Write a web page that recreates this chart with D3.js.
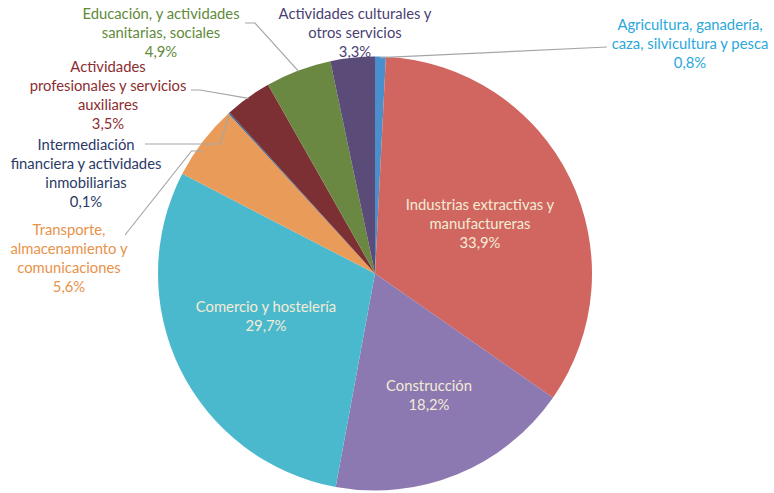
<!DOCTYPE html>
<html><head><meta charset="utf-8">
<script src="https://cdn.jsdelivr.net/npm/d3@7"></script>
<style>
html,body{margin:0;padding:0;background:#fff;}
svg{display:block;font-family:Lato, "Open Sans", sans-serif;}
</style></head>
<body><svg id="c" width="774" height="493"></svg>
<script>
// ---- data ----
const categories = [
  "Agricultura, ganadería, caza, silvicultura y pesca",
  "Industrias extractivas y manufactureras",
  "Construcción",
  "Comercio y hostelería",
  "Transporte, almacenamiento y comunicaciones",
  "Intermediación financiera y actividades inmobiliarias",
  "Actividades profesionales y servicios auxiliares",
  "Educación, y actividades sanitarias, sociales",
  "Actividades culturales y otros servicios"
];
const values = [0.8, 33.9, 18.2, 29.7, 5.6, 0.1, 3.5, 4.9, 3.3];
const valueLabels = ["0,8%","33,9%","18,2%","29,7%","5,6%","0,1%","3,5%","4,9%","3,3%"];
const labelLines = [
  ["Agricultura, ganadería,","caza, silvicultura y pesca"],
  ["Industrias extractivas y","manufactureras"],
  ["Construcción"],
  ["Comercio y hostelería"],
  ["Transporte,","almacenamiento y","comunicaciones"],
  ["Intermediación","financiera y actividades","inmobiliarias"],
  ["Actividades","profesionales y servicios","auxiliares"],
  ["Educación, y actividades","sanitarias, sociales"],
  ["Actividades culturales y","otros servicios"]
];

// ---- styles / layout ----
const sliceColors = ["#4a8fcc","#d0665f","#8c79b1","#4bb9cd","#e99c5a","#2c6496","#7c3034","#6b8842","#5b4b78"];
const textColors  = ["#2aa7dc","#f3ecd6","#f3ecd6","#f3ecd6","#e8924a","#2b3a67","#8b2e32","#5f8a3a","#4a3f73"];
// label centre x, first-line centre y
const labelPos = [[690,25],[480,205],[429,386],[266,307],[69,230],[86,145],[108,67],[161,14],[355,14]];
// leader: [anchor x, anchor y, elbow x] (null = none)
const leaders = [[607,47,600],null,null,null,[125,235,190],[145,144,220],[191,90,200],[245,23,255],null];

const cx = 375, cy = 273.5, R = 217, LH = 19;
const svg = d3.select("#c");

const pie = d3.pie().sort(null).value(d => d)(values);
const arc = d3.arc().innerRadius(0).outerRadius(R);

const g = svg.append("g").attr("transform", `translate(${cx},${cy})`);
g.selectAll("path").data(pie).join("path")
  .attr("d", arc)
  .attr("fill", (d,i) => sliceColors[i]);

// leader lines
const pt = (a, r) => [cx + r*Math.sin(a), cy - r*Math.cos(a)];
pie.forEach((d,i) => {
  const L = leaders[i];
  if (!L) return;
  const mid = (d.startAngle + d.endAngle)/2;
  const e = pt(mid, R - 1);
  let pts;
  if (i === 0) pts = [[L[0],L[1]], e];
  else pts = [[L[0],L[1]],[L[2],L[1]], e];
  if (i === 4) pts = [[L[0],L[1]],[e[0]-12,151],[e[0],151]];
  svg.append("polyline")
    .attr("points", pts.map(p=>p.join(",")).join(" "))
    .attr("fill","none").attr("stroke","#a6a6a6").attr("stroke-width",1.2);
});

// labels
categories.forEach((c,i) => {
  const lines = labelLines[i].concat([valueLabels[i]]);
  const t = svg.append("text")
    .attr("text-anchor","middle")
    .attr("font-size","14.8px")
    .attr("fill", textColors[i]);
  lines.forEach((ln,k) => {
    t.append("tspan").attr("x", labelPos[i][0]).attr("y", labelPos[i][1] + k*LH)
      .attr("dy","0.35em").text(ln);
  });
});
</script></body></html>
